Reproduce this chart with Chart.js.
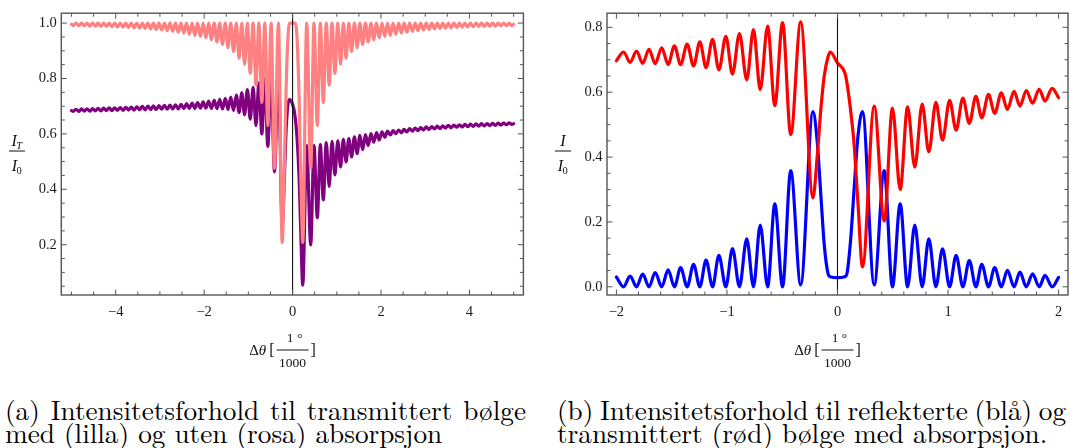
<!DOCTYPE html>
<html>
<head>
<meta charset="utf-8">
<script src="https://cdn.jsdelivr.net/npm/chart.js@4.4.1/dist/chart.umd.min.js"></script>
<style>
  html, body { margin: 0; padding: 0; background: #fff; }
  body { width: 1071px; height: 448px; position: relative; overflow: hidden; }
  .panel { position: absolute; top: 0; height: 380px; }
  #panelA { left: 0; width: 540px; }
  #panelB { left: 540px; width: 531px; }
  .cap { position: absolute; font-family: "Latin Modern Roman", "Liberation Serif", monospace; font-size: 23px; line-height: 1; color: #000; white-space: pre; }
</style>
</head>
<body>
<div class="panel" id="panelA"><canvas id="chartA" width="540" height="380"></canvas></div>
<div class="panel" id="panelB"><canvas id="chartB" width="531" height="380"></canvas></div>

<div class="cap" id="capA1">(a) Intensitetsforhold til transmittert bølge</div>
<div class="cap" id="capA2">med (lilla) og uten (rosa) absorpsjon</div>
<div class="cap" id="capB1">(b) Intensitetsforhold til reflekterte (blå) og</div>
<div class="cap" id="capB2">transmittert (rød) bølge med absorpsjon.</div>

<script>
// ---- panel (a): transmitted intensity, angle offset in 1/1000 degree ----
const angleA = [
  -5.0, -4.96, -4.898, -4.835, -4.772, -4.71, -4.648, -4.585, -4.522, -4.46,
  -4.398, -4.335, -4.272, -4.21, -4.148, -4.085, -4.022, -3.96, -3.898, -3.835,
  -3.772, -3.71, -3.648, -3.585, -3.522, -3.46, -3.398, -3.335, -3.272, -3.21,
  -3.148, -3.085, -3.022, -2.96, -2.898, -2.835, -2.772, -2.71, -2.648, -2.585,
  -2.522, -2.46, -2.398, -2.335, -2.272, -2.21, -2.148, -2.085, -2.022, -1.96,
  -1.898, -1.835, -1.772, -1.71, -1.648, -1.585, -1.522, -1.46, -1.398, -1.335,
  -1.272, -1.21, -1.148, -1.086, -1.022, -0.957, -0.892, -0.828, -0.762, -0.695,
  -0.628, -0.56, -0.485, -0.41, -0.32,
  -0.235, -0.19, -0.15, -0.11, -0.07, 0, 0.05, 0.1, 0.15, 0.19, 0.23,
  0.32, 0.41, 0.485, 0.56, 0.628, 0.695, 0.762, 0.828, 0.892, 0.957,
  1.022, 1.086, 1.148, 1.21, 1.272, 1.335, 1.398, 1.46, 1.522, 1.585,
  1.648, 1.71, 1.772, 1.835, 1.898, 1.96, 2.022, 2.085, 2.148, 2.21,
  2.272, 2.335, 2.398, 2.46, 2.522, 2.585, 2.648, 2.71, 2.772, 2.835,
  2.898, 2.96, 3.022, 3.085, 3.148, 3.21, 3.272, 3.335, 3.398, 3.46,
  3.522, 3.585, 3.648, 3.71, 3.772, 3.835, 3.898, 3.96, 4.022, 4.085,
  4.148, 4.21, 4.272, 4.335, 4.398, 4.46, 4.522, 4.585, 4.648, 4.71,
  4.772, 4.835, 4.898, 4.96, 5.0
];

// without absorption (rosa)
const noAbsorption = [
  0.996, 0.991, 1, 0.99, 1, 0.99, 1, 0.989, 1, 0.989,
  1, 0.988, 1, 0.988, 1, 0.987, 1, 0.986, 1, 0.985,
  1, 0.984, 1, 0.983, 1, 0.982, 1, 0.981, 1, 0.979,
  1, 0.977, 1, 0.975, 1, 0.973, 1, 0.97, 1, 0.967,
  1, 0.964, 1, 0.96, 1, 0.956, 1, 0.952, 1, 0.947,
  1, 0.94, 1, 0.932, 1, 0.923, 1, 0.911, 1, 0.897,
  1, 0.873, 1, 0.851, 1, 0.819, 1, 0.776, 1, 0.713,
  1, 0.63, 1, 0.475, 1,
  0.208, 0.45, 0.74, 0.93, 1, 1, 1, 0.95, 0.72, 0.42, 0.208,
  1, 0.475, 1, 0.63, 1, 0.713, 1, 0.776, 1, 0.819,
  1, 0.851, 1, 0.873, 1, 0.897, 1, 0.911, 1, 0.923,
  1, 0.932, 1, 0.94, 1, 0.947, 1, 0.952, 1, 0.956,
  1, 0.96, 1, 0.964, 1, 0.967, 1, 0.97, 1, 0.973,
  1, 0.975, 1, 0.977, 1, 0.979, 1, 0.981, 1, 0.982,
  1, 0.983, 1, 0.984, 1, 0.985, 1, 0.986, 1, 0.987,
  1, 0.988, 1, 0.988, 1, 0.989, 1, 0.989, 1, 0.99,
  1, 0.99, 1, 0.991, 0.996
];

// with absorption (lilla)
const withAbsorption = [
  0.684, 0.681, 0.689, 0.681, 0.690, 0.682, 0.690, 0.682, 0.691, 0.683,
  0.692, 0.683, 0.693, 0.684, 0.694, 0.684, 0.694, 0.685, 0.695, 0.685,
  0.696, 0.686, 0.697, 0.686, 0.698, 0.687, 0.699, 0.687, 0.700, 0.688,
  0.701, 0.688, 0.702, 0.689, 0.703, 0.689, 0.704, 0.690, 0.705, 0.690,
  0.707, 0.691, 0.709, 0.692, 0.711, 0.692, 0.713, 0.693, 0.716, 0.693,
  0.718, 0.692, 0.721, 0.691, 0.725, 0.690, 0.728, 0.688, 0.733, 0.685,
  0.740, 0.677, 0.748, 0.669, 0.760, 0.653, 0.768, 0.630, 0.784, 0.600,
  0.800, 0.555, 0.813, 0.463, 0.823,
  0.272, 0.42, 0.60, 0.70, 0.724, 0.707, 0.671, 0.588, 0.434, 0.22, 0.054,
  0.558, 0.199, 0.558, 0.297, 0.561, 0.362, 0.569, 0.41, 0.573, 0.452,
  0.575, 0.481, 0.58, 0.499, 0.583, 0.517, 0.589, 0.529, 0.595, 0.543,
  0.597, 0.558, 0.601, 0.570, 0.605, 0.578, 0.607, 0.588, 0.61, 0.596,
  0.612, 0.601, 0.614, 0.604, 0.616, 0.607, 0.619, 0.61, 0.621, 0.612,
  0.623, 0.614, 0.625, 0.616, 0.626, 0.618, 0.628, 0.619, 0.629, 0.621,
  0.631, 0.622, 0.632, 0.624, 0.633, 0.625, 0.634, 0.626, 0.635, 0.627,
  0.636, 0.628, 0.637, 0.629, 0.637, 0.63, 0.638, 0.631, 0.639, 0.632,
  0.639, 0.633, 0.640, 0.634, 0.637
];

// ---- panel (b): reflected and transmitted intensity with absorption ----
const angleB = [
  -2.0, -1.935, -1.876, -1.818, -1.762, -1.705, -1.649, -1.59, -1.532, -1.475,
  -1.419, -1.36, -1.302, -1.245, -1.189, -1.13, -1.073, -1.01, -0.95, -0.887,
  -0.821, -0.76, -0.699, -0.632, -0.567, -0.497, -0.423, -0.333, -0.222, -0.184,
  -0.15, -0.12, -0.085, -0.066, 0, 0.066, 0.085, 0.12, 0.15, 0.184,
  0.226, 0.332, 0.423, 0.497, 0.567, 0.634, 0.699, 0.766, 0.826, 0.89,
  0.95, 1.014, 1.073, 1.134, 1.192, 1.252, 1.305, 1.366, 1.422, 1.482,
  1.537, 1.597, 1.65, 1.708, 1.765, 1.824, 1.877, 1.942, 2.0
];

const reflected = [
  0.03, 0, 0.033, 0, 0.039, 0, 0.044, 0, 0.052, 0,
  0.059, 0, 0.069, 0, 0.082, 0, 0.097, 0, 0.118, 0,
  0.148, 0, 0.19, 0, 0.256, 0, 0.358, 0.006, 0.54, 0.45,
  0.28, 0.13, 0.04, 0.031, 0.028, 0.031, 0.04, 0.15, 0.30, 0.46,
  0.54, 0.006, 0.358, 0, 0.256, 0, 0.19, 0, 0.148, 0,
  0.117, 0, 0.097, 0, 0.081, 0, 0.069, 0, 0.059, 0,
  0.051, 0, 0.045, 0, 0.04, 0, 0.035, 0, 0.029
];

const transmitted = [
  0.697, 0.724, 0.692, 0.727, 0.689, 0.732, 0.688, 0.737, 0.686, 0.743,
  0.685, 0.748, 0.681, 0.755, 0.676, 0.763, 0.669, 0.772, 0.656, 0.781,
  0.638, 0.793, 0.608, 0.804, 0.559, 0.815, 0.469, 0.817, 0.274, 0.40,
  0.55, 0.65, 0.71, 0.724, 0.69, 0.66, 0.63, 0.54, 0.44, 0.264,
  0.061, 0.557, 0.203, 0.551, 0.30, 0.555, 0.369, 0.563, 0.416, 0.569,
  0.452, 0.575, 0.483, 0.582, 0.504, 0.587, 0.521, 0.593, 0.535, 0.598,
  0.547, 0.603, 0.557, 0.605, 0.566, 0.609, 0.573, 0.612, 0.583
];

// labelled ticks
const ticksAx = [-4, -2, 0, 2, 4];
const ticksAy = [0.2, 0.4, 0.6, 0.8, 1.0];
const ticksBx = [-2, -1, 0, 1, 2];
const ticksBy = [0, 0.2, 0.4, 0.6, 0.8];

const SERIF = '"Liberation Serif", monospace';
Chart.defaults.font.family = SERIF;
Chart.defaults.font.size = 14.5;
Chart.defaults.color = '#1a1a1a';

const toPoints = (xs, ys) => xs.map((x, i) => ({ x, y: ys[i] }));

function minusLabel(v) {
  return v < 0 ? '\u2212' + Math.abs(v) : String(v);
}

// frame with inward ticks on all four sides, plus the line at zero
const frameTicks = {
  id: 'frameTicks',
  afterDatasetsDraw(chart, args, o) {
    const { ctx, chartArea: a } = chart;
    const xs = chart.scales.x, ys = chart.scales.y;
    ctx.save();

    const x0 = xs.getPixelForValue(0);
    ctx.strokeStyle = '#111';
    ctx.lineWidth = 1.1;
    ctx.beginPath();
    ctx.moveTo(x0, a.top);
    ctx.lineTo(x0, a.bottom);
    ctx.stroke();

    ctx.strokeStyle = '#555';
    ctx.lineWidth = 1;
    ctx.beginPath();
    const isMajor = (list, v) => list.some(m => Math.abs(m - v) < 1e-6);
    for (let k = Math.ceil(xs.min / o.xStep - 1e-9); k * o.xStep <= xs.max + 1e-9; k++) {
      const v = k * o.xStep;
      const len = isMajor(o.xMajor, v) ? 5.5 : 3.5;
      const px = xs.getPixelForValue(v);
      ctx.moveTo(px, a.bottom); ctx.lineTo(px, a.bottom - len);
      ctx.moveTo(px, a.top); ctx.lineTo(px, a.top + len);
    }
    for (let k = Math.ceil(ys.min / o.yStep - 1e-9); k * o.yStep <= ys.max + 1e-9; k++) {
      const v = k * o.yStep;
      const len = isMajor(o.yMajor, v) ? 5.5 : 3.5;
      const py = ys.getPixelForValue(v);
      ctx.moveTo(a.left, py); ctx.lineTo(a.left + len, py);
      ctx.moveTo(a.right, py); ctx.lineTo(a.right - len, py);
    }
    ctx.stroke();

    ctx.lineWidth = 1.4;
    ctx.strokeRect(a.left, a.top, a.right - a.left, a.bottom - a.top);
    ctx.restore();
  }
};

// I/I0 on the left, Δθ [1°/1000] below
const axisTitles = {
  id: 'axisTitles',
  afterDraw(chart, args, o) {
    const { ctx } = chart;
    ctx.save();
    ctx.fillStyle = '#111';
    ctx.textBaseline = 'alphabetic';

    // intensity ratio
    const cx = o.yTitleX, cy = 151;
    ctx.font = 'italic 16px ' + SERIF;
    const wI = ctx.measureText('I').width;
    ctx.font = 'italic 10.5px ' + SERIF;
    const wSub = o.sub ? ctx.measureText(o.sub).width : 0;
    const nx = cx - (wI + wSub) / 2;
    ctx.font = 'italic 16px ' + SERIF;
    ctx.fillText('I', nx, cy - 5);
    if (o.sub) {
      ctx.font = 'italic 10.5px ' + SERIF;
      ctx.fillText(o.sub, nx + wI - 0.5, cy - 2.5);
    }
    ctx.fillRect(cx - 8, cy - 0.5, 16, 1);
    ctx.font = '10.5px ' + SERIF;
    const w0 = ctx.measureText('0').width;
    const dx = cx - (wI + w0) / 2;
    ctx.font = 'italic 16px ' + SERIF;
    ctx.fillText('I', dx, cy + 20);
    ctx.font = '10.5px ' + SERIF;
    ctx.fillText('0', dx + wI - 0.5, cy + 22.5);

    // angle label
    const base = 355, barY = 350, barW = 32;
    ctx.font = '15px ' + SERIF;
    const wD = ctx.measureText('\u0394').width;
    ctx.font = 'italic 15px ' + SERIF;
    const wT = ctx.measureText('\u03b8').width;
    ctx.font = '16px ' + SERIF;
    const wB = ctx.measureText('[').width;
    const barX = chart.scales.x.getPixelForValue(0) - barW / 2;
    let x = barX - 2 - wB - 3 - wT - wD;
    ctx.font = '15px ' + SERIF;
    ctx.fillText('\u0394', x, base);
    x += wD;
    ctx.font = 'italic 15px ' + SERIF;
    ctx.fillText('\u03b8', x, base);
    x += wT + 3;
    ctx.font = '16px ' + SERIF;
    ctx.fillText('[', x, base);
    ctx.fillRect(barX, barY - 0.5, barW, 1);
    ctx.fillText(']', barX + barW + 2, base);
    ctx.textAlign = 'center';
    ctx.font = '13.5px ' + SERIF;
    ctx.fillText('1 \u00b0', barX + barW / 2 + 2, 341.5);
    ctx.fillText('1000', barX + barW / 2, 366.5);
    ctx.restore();
  }
};

function baseOptions(cfg) {
  return {
    responsive: false,
    animation: false,
    devicePixelRatio: 1,
    layout: { padding: { top: cfg.top, right: cfg.right, left: 0, bottom: 0 } },
    plugins: {
      legend: { display: false },
      tooltip: { enabled: false },
      frameTicks: cfg.frame,
      axisTitles: cfg.titles
    },
    elements: {
      point: { radius: 0 },
      line: { borderWidth: 3.2, borderJoinStyle: 'round', borderCapStyle: 'round', cubicInterpolationMode: 'monotone' }
    },
    scales: {
      x: {
        type: 'linear',
        min: cfg.xMin,
        max: cfg.xMax,
        grid: { display: false, drawTicks: false },
        border: { display: false },
        afterBuildTicks: s => { s.ticks = cfg.xTicks.map(v => ({ value: v })); },
        afterFit: s => { s.height = 380 - cfg.bottom; },
        ticks: { padding: 8, maxRotation: 0, autoSkip: false, callback: v => minusLabel(v) }
      },
      y: {
        type: 'linear',
        min: cfg.yMin,
        max: cfg.yMax,
        grid: { display: false, drawTicks: false },
        border: { display: false },
        afterBuildTicks: s => { s.ticks = cfg.yTicks.map(v => ({ value: v })); },
        afterFit: s => { s.width = cfg.left; },
        ticks: { padding: 4.5, autoSkip: false, callback: v => v.toFixed(1) }
      }
    }
  };
}

new Chart(document.getElementById('chartA'), {
  type: 'line',
  data: {
    datasets: [
      { data: toPoints(angleA, noAbsorption), borderColor: '#ff8080' },
      { data: toPoints(angleA, withAbsorption), borderColor: '#800080' }
    ]
  },
  options: baseOptions({
    top: 9.3, right: 540 - 523.4, left: 61.3, bottom: 295,
    xMin: -5.23, xMax: 5.22, yMin: 0.0184, yMax: 1.0357,
    xTicks: ticksAx, yTicks: ticksAy,
    frame: { xStep: 0.5, xMajor: ticksAx, yStep: 0.05, yMajor: ticksAy },
    titles: { yTitleX: 17, sub: 'T' }
  }),
  plugins: [frameTicks, axisTitles]
});

new Chart(document.getElementById('chartB'), {
  type: 'line',
  data: {
    datasets: [
      { data: toPoints(angleB, transmitted), borderColor: '#ff0000' },
      { data: toPoints(angleB, reflected), borderColor: '#0000ff' }
    ]
  },
  options: baseOptions({
    top: 10, right: 531 - 528, left: 67, bottom: 295,
    xMin: -2.085, xMax: 2.085, yMin: -0.0253, yMax: 0.8436,
    xTicks: ticksBx, yTicks: ticksBy,
    frame: { xStep: 0.2, xMajor: ticksBx, yStep: 0.05, yMajor: ticksBy },
    titles: { yTitleX: 23, sub: '' }
  }),
  plugins: [frameTicks, axisTitles]
});

// captions: font size from the last lines, first lines justified
const capBase = 23;
function naturalWidth(id) {
  return document.getElementById(id).getBoundingClientRect().width;
}
const capSize = capBase * 0.5 * (428 / naturalWidth('capA2') + 501 / naturalWidth('capB2'));

function placeCaption(id, left, baseline, target) {
  const el = document.getElementById(id);
  el.style.fontSize = capSize + 'px';
  el.style.left = left + 'px';
  el.style.top = (baseline - 0.84 * capSize) + 'px';
  if (target) {
    const w = el.getBoundingClientRect().width;
    const gaps = (el.textContent.match(/ /g) || []).length;
    el.style.wordSpacing = ((target - w) / gaps) + 'px';
  }
}

placeCaption('capA1', 5, 418, 521);
placeCaption('capA2', 5, 441);
placeCaption('capB1', 557, 418, 509);
placeCaption('capB2', 557, 441);
</script>
</body>
</html>
